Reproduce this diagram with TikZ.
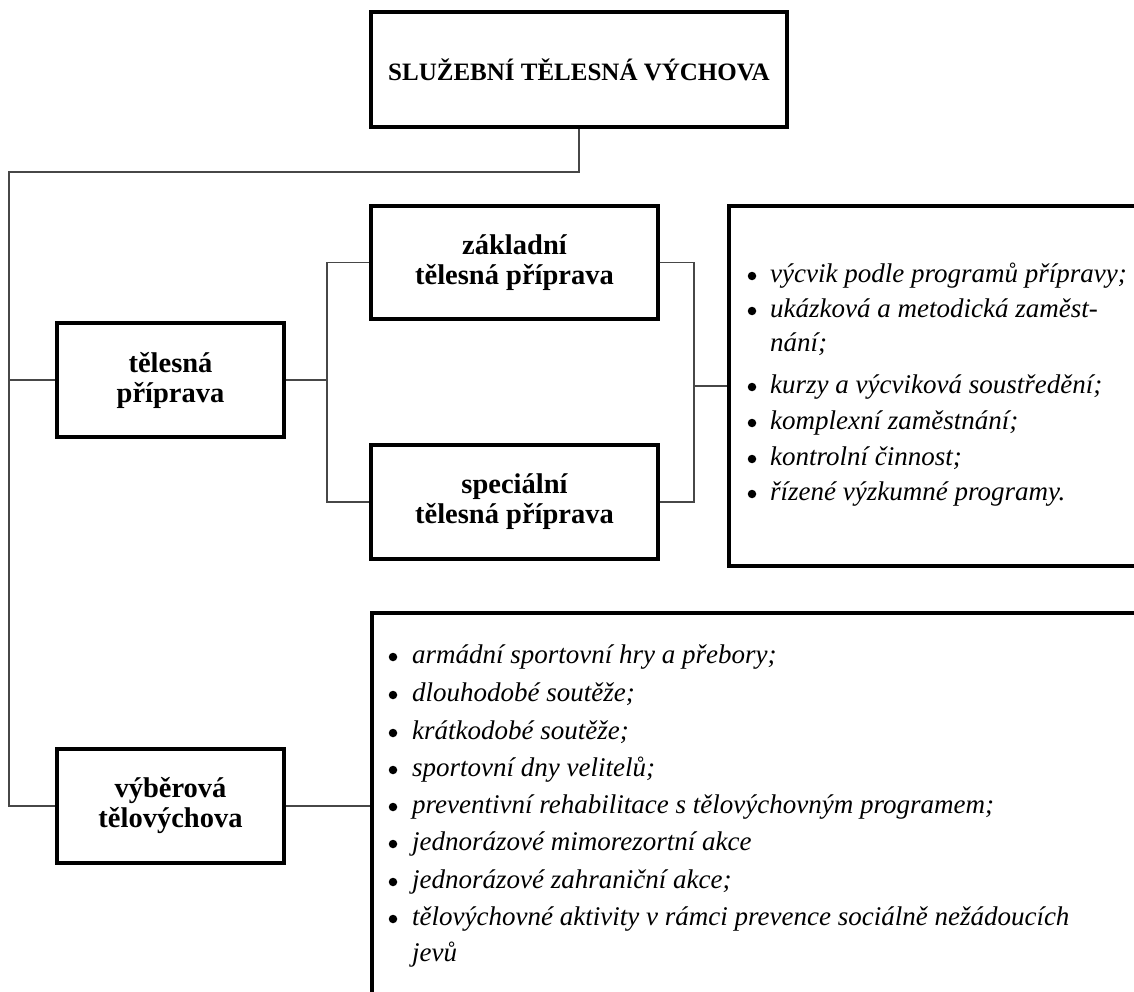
\documentclass[tikz,border=0pt]{standalone}
\usepackage{fontspec}
\setmainfont{Liberation Serif}
\begin{document}
\begin{tikzpicture}[x=1pt,y=-1pt,
  box/.style={draw=black, line width=3.2pt, inner sep=0pt, align=center},
  conn/.style={draw=black!72, line width=1.4pt},
  lbl/.style={font=\fontsize{28.5}{30}\selectfont\bfseries},
  ttl/.style={font=\fontsize{25}{30}\selectfont\bfseries},
  itm/.style={anchor=base west, inner sep=0pt, font=\fontsize{27}{33}\selectfont\itshape},
  bul/.style={circle, fill=black, inner sep=0pt, minimum size=8.5pt}]
\useasboundingbox (0,0) rectangle (1134,992);
\clip (0,0) rectangle (1134,992);
\fill[white] (0,0) rectangle (1134,992);

% boxes
\node[box, ttl, minimum width=416pt, minimum height=115pt] (title) at (579,69.5) {SLUŽEBNÍ TĚLESNÁ VÝCHOVA};
\node[box, lbl, minimum width=227pt, minimum height=114pt] (tp) at (170.5,380) {tělesná\\příprava};
\node[box, lbl, minimum width=287pt, minimum height=113pt] (zp) at (514.5,262.5) {základní\\tělesná příprava};
\node[box, lbl, minimum width=287pt, minimum height=114pt] (sp) at (514.5,502) {speciální\\tělesná příprava};
\node[box, lbl, minimum width=227pt, minimum height=114pt] (vt) at (170.5,806) {výběrová\\tělovýchova};
\node[box, minimum width=416pt, minimum height=360pt] (list1) at (937,386) {};
\node[box, minimum width=773pt, minimum height=392pt] (list2) at (758.5,809) {};

% connectors
\coordinate (lx) at (9,172);
\coordinate (b1) at (327,380);
\coordinate (b2) at (694,386);
\draw[conn] (title.south) |- (lx) -- (lx |- vt.west) -- (vt.west);
\draw[conn] (lx |- tp.west) -- (tp.west);
\draw[conn] (tp.east) -- (b1);
\draw[conn] (zp.west) -| (b1) |- (sp.west);
\draw[conn] (zp.east) -| (b2) |- (sp.east);
\draw[conn] (b2) -- (list1.west);
\draw[conn] (vt.east) -- (vt.east -| list2.west);

% list 1
\node[bul] (ba1) at (752,276) {};
\node[itm] (ta1) at (770,282) {výcvik podle programů přípravy;};
\node[bul] (ba2) at (752,311) {};
\node[itm] (ta2) at (770,317) {ukázková a metodická zaměst-};
\node[itm] (ta2b) at (770,351) {nání;};
\node[bul] (ba3) at (752,387) {};
\node[itm] (ta3) at (770,393) {kurzy a výcviková soustředění;};
\node[bul] (ba4) at (752,423) {};
\node[itm] (ta4) at (770,429) {komplexní zaměstnání;};
\node[bul] (ba5) at (752,459) {};
\node[itm] (ta5) at (770,465) {kontrolní činnost;};
\node[bul] (ba6) at (752,494) {};
\node[itm] (ta6) at (770,500) {řízené výzkumné programy.};

% list 2
\node[bul] (bb1) at (393,657) {};
\node[itm] (tb1) at (412,663) {armádní sportovní hry a přebory;};
\node[bul] (bb2) at (393,695) {};
\node[itm] (tb2) at (412,701) {dlouhodobé soutěže;};
\node[bul] (bb3) at (393,733) {};
\node[itm] (tb3) at (412,739) {krátkodobé soutěže;};
\node[bul] (bb4) at (393,770) {};
\node[itm] (tb4) at (412,776) {sportovní dny velitelů;};
\node[bul] (bb5) at (393,807) {};
\node[itm] (tb5) at (412,813) {preventivní rehabilitace s tělovýchovným programem;};
\node[bul] (bb6) at (393,844) {};
\node[itm] (tb6) at (412,850) {jednorázové mimorezortní akce};
\node[bul] (bb7) at (393,882) {};
\node[itm] (tb7) at (412,888) {jednorázové zahraniční akce;};
\node[bul] (bb8) at (393,919) {};
\node[itm] (tb8) at (412,925) {tělovýchovné aktivity v rámci prevence sociálně nežádoucích};
\node[itm] (tb8b) at (412,961) {jevů};
\end{tikzpicture}
\end{document}
